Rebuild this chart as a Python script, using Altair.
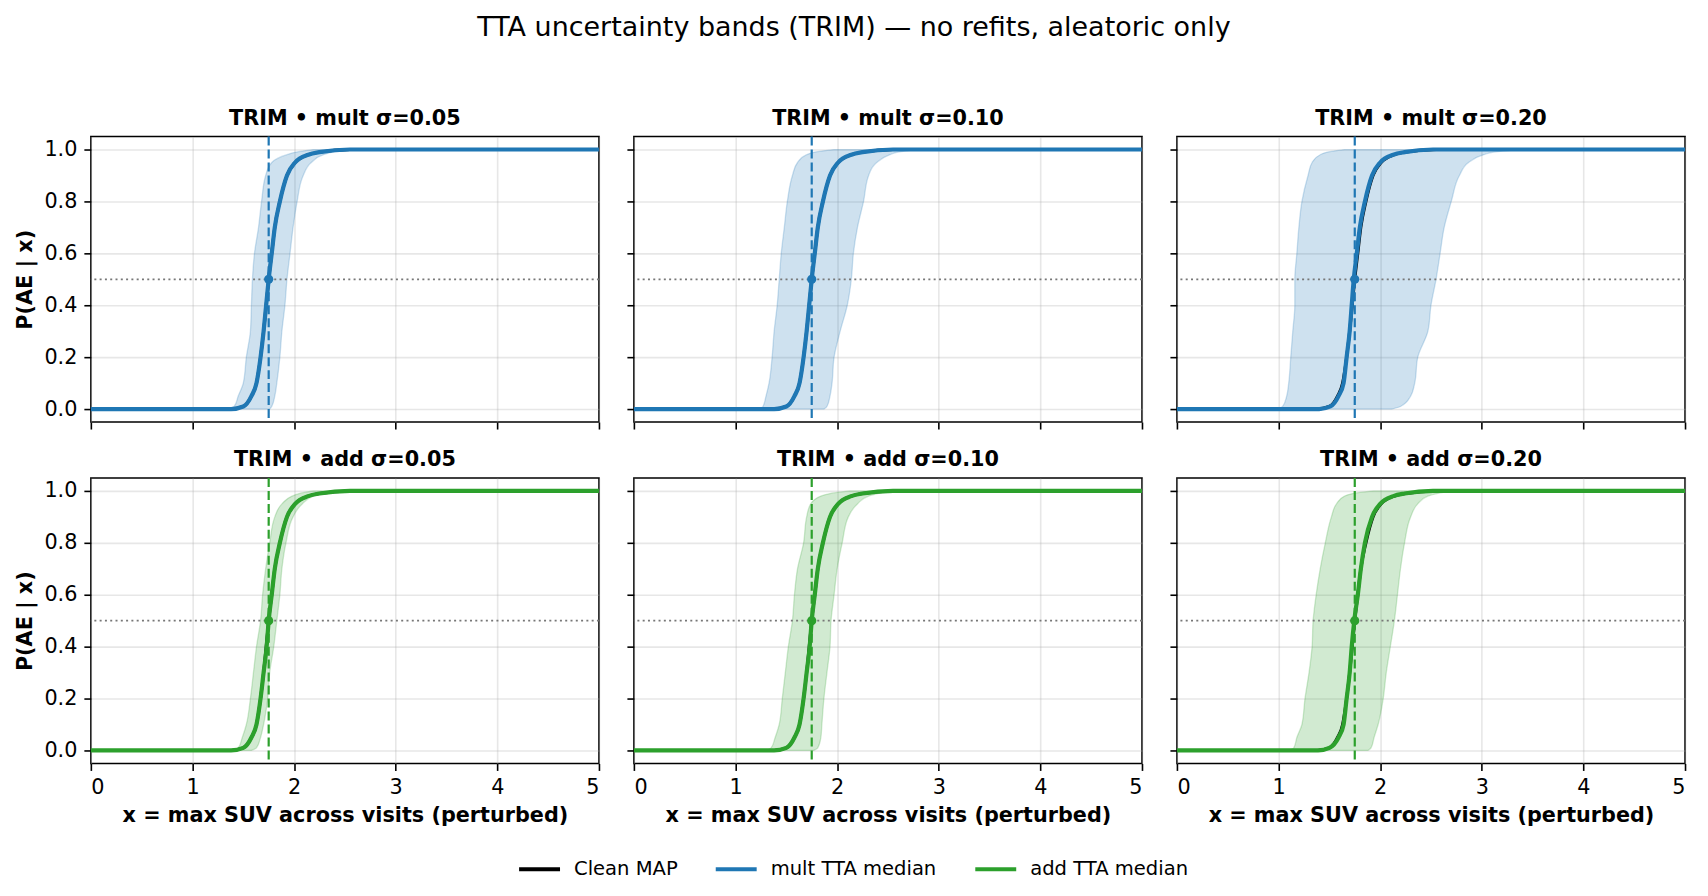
import altair as alt
import pandas as pd

FONT = "DejaVu Sans"
BLUE = "#1f77b4"
GREEN = "#2ca02c"

TITLE = "TTA uncertainty bands (TRIM) — no refits, aleatoric only"
X_TITLE = "x = max SUV across visits (perturbed)"
Y_TITLE = "P(AE | x)"
SERIES = ["Clean MAP", "mult TTA median", "add TTA median"]
SERIES_COLORS = ["#000000", BLUE, GREEN]
X_TICKS = [0, 1, 2, 3, 4, 5]
Y_TICKS = [0.0, 0.2, 0.4, 0.6, 0.8, 1.0]
X_RANGE = [0.0, 5.0]
Y_RANGE = [-0.05, 1.05]
THRESH_X = 1.75
THRESH_P = 0.5

# probability levels at which the curve / band edges were read (x position at each level)
LEVELS = [0.0, 0.01, 0.05, 0.1, 0.2, 0.3, 0.4, 0.5, 0.6, 0.7, 0.8, 0.9, 0.95, 0.98, 0.99, 1.0]

CLEAN_X = [1.38, 1.50, 1.58, 1.63, 1.67, 1.70, 1.725, 1.75, 1.78, 1.81, 1.86, 1.93, 2.01, 2.14, 2.25, 2.55]

MULT_005_MED = [1.38, 1.50, 1.58, 1.63, 1.67, 1.70, 1.725, 1.75, 1.78, 1.81, 1.86, 1.93, 2.01, 2.14, 2.25, 2.55]
MULT_005_LEFT = [1.35, 1.41, 1.45, 1.50, 1.53, 1.57, 1.58, 1.59, 1.61, 1.65, 1.68, 1.72, 1.78, 1.93, 2.02, 2.19]
MULT_005_RIGHT = [1.76, 1.78, 1.81, 1.83, 1.86, 1.88, 1.91, 1.93, 1.96, 1.99, 2.03, 2.09, 2.17, 2.29, 2.38, 2.58]

MULT_010_MED = [1.38, 1.50, 1.58, 1.63, 1.67, 1.70, 1.725, 1.75, 1.78, 1.81, 1.86, 1.93, 2.01, 2.14, 2.25, 2.55]
MULT_010_LEFT = [1.23, 1.27, 1.30, 1.33, 1.36, 1.38, 1.41, 1.43, 1.45, 1.48, 1.51, 1.56, 1.61, 1.70, 1.78, 1.97]
MULT_010_RIGHT = [1.87, 1.90, 1.93, 1.95, 1.97, 2.03, 2.10, 2.14, 2.16, 2.20, 2.26, 2.31, 2.39, 2.52, 2.60, 2.79]

MULT_020_MED = [1.40, 1.51, 1.59, 1.64, 1.67, 1.70, 1.72, 1.74, 1.77, 1.80, 1.85, 1.92, 2.00, 2.13, 2.24, 2.52]
MULT_020_LEFT = [1.00, 1.04, 1.08, 1.10, 1.12, 1.14, 1.16, 1.16, 1.18, 1.20, 1.23, 1.29, 1.33, 1.41, 1.48, 1.65]
MULT_020_RIGHT = [2.11, 2.20, 2.30, 2.34, 2.37, 2.47, 2.50, 2.55, 2.59, 2.63, 2.70, 2.78, 2.87, 3.02, 3.12, 3.38]

ADD_005_MED = [1.38, 1.50, 1.58, 1.63, 1.67, 1.70, 1.73, 1.75, 1.78, 1.81, 1.86, 1.93, 2.01, 2.14, 2.25, 2.55]
ADD_005_LEFT = [1.39, 1.45, 1.49, 1.53, 1.57, 1.60, 1.63, 1.67, 1.69, 1.72, 1.76, 1.81, 1.88, 1.98, 2.05, 2.19]
ADD_005_RIGHT = [1.58, 1.63, 1.67, 1.70, 1.74, 1.76, 1.80, 1.83, 1.86, 1.88, 1.92, 1.99, 2.08, 2.19, 2.27, 2.42]

ADD_010_MED = [1.38, 1.50, 1.58, 1.63, 1.67, 1.70, 1.73, 1.75, 1.78, 1.81, 1.86, 1.93, 2.01, 2.14, 2.25, 2.55]
ADD_010_LEFT = [1.30, 1.35, 1.39, 1.43, 1.46, 1.49, 1.52, 1.56, 1.58, 1.61, 1.67, 1.70, 1.74, 1.84, 1.93, 2.13]
ADD_010_RIGHT = [1.77, 1.81, 1.84, 1.85, 1.87, 1.90, 1.93, 1.94, 1.97, 2.00, 2.05, 2.11, 2.20, 2.31, 2.40, 2.59]

ADD_020_MED = [1.39, 1.50, 1.59, 1.64, 1.67, 1.70, 1.72, 1.745, 1.78, 1.81, 1.85, 1.92, 2.00, 2.13, 2.24, 2.52]
ADD_020_LEFT = [1.10, 1.15, 1.18, 1.23, 1.26, 1.30, 1.33, 1.34, 1.37, 1.41, 1.46, 1.52, 1.57, 1.65, 1.73, 1.94]
ADD_020_RIGHT = [1.88, 1.91, 1.94, 1.98, 2.03, 2.06, 2.10, 2.14, 2.17, 2.20, 2.24, 2.30, 2.37, 2.47, 2.56, 2.73]

PANEL_TITLES = ["TRIM • mult σ=0.05", "TRIM • mult σ=0.10", "TRIM • mult σ=0.20",
                "TRIM • add σ=0.05", "TRIM • add σ=0.10", "TRIM • add σ=0.20"]

PANEL_W = 509
PANEL_H = 286

xscale = alt.Scale(domain=X_RANGE, nice=False, zero=False)
yscale = alt.Scale(domain=Y_RANGE, nice=False, zero=False)
color_scale = alt.Scale(domain=SERIES, range=SERIES_COLORS)

LEGEND = alt.Legend(
    title=None, orient="none", legendX=427, legendY=711, direction="horizontal",
    symbolType="stroke", symbolSize=1681, symbolStrokeWidth=4,
    labelFont=FONT, labelFontSize=19.6, labelColor="black", labelOffset=12,
    labelLimit=400, columnPadding=30,
)


def line_df(xs, name):
    return pd.DataFrame({
        "x": [X_RANGE[0]] + list(xs) + [X_RANGE[1]],
        "p": [0.0] + LEVELS + [1.0],
        "series": name,
    })


def panel(title, mode, med, left, right, show_x, show_y):
    col = BLUE if mode == "mult" else GREEN
    series_name = "mult TTA median" if mode == "mult" else "add TTA median"
    xaxis = alt.Axis(values=X_TICKS, format="d", labels=show_x,
                     title=X_TITLE if show_x else None)
    yaxis = alt.Axis(values=Y_TICKS, format=".1f", labels=show_y,
                     title=Y_TITLE if show_y else None)

    band_df = pd.DataFrame({"p": LEVELS, "xl": left, "xr": right})
    band = alt.Chart(band_df).mark_area(
        orient="horizontal", interpolate="monotone", color=col, fillOpacity=0.22,
        stroke=col, strokeOpacity=0.22, strokeWidth=1.3,
    ).encode(
        y=alt.Y("p:Q", scale=yscale, axis=yaxis),
        x=alt.X("xl:Q", scale=xscale, axis=xaxis),
        x2="xr:Q",
    )

    clean = alt.Chart(line_df(CLEAN_X, "Clean MAP")).mark_line(
        strokeWidth=3, interpolate="monotone").encode(
        x=alt.X("x:Q", scale=xscale, axis=xaxis),
        y=alt.Y("p:Q", scale=yscale, axis=yaxis),
        color=alt.Color("series:N", scale=color_scale, legend=LEGEND),
    )
    median = alt.Chart(line_df(med, series_name)).mark_line(
        strokeWidth=4.2, interpolate="monotone").encode(
        x=alt.X("x:Q", scale=xscale, axis=xaxis),
        y=alt.Y("p:Q", scale=yscale, axis=yaxis),
        color=alt.Color("series:N", scale=color_scale, legend=LEGEND),
    )

    pt_df = pd.DataFrame({"x": [THRESH_X], "p": [THRESH_P]})
    vrule = alt.Chart(pt_df).mark_rule(color=col, strokeWidth=2.2, strokeDash=[9, 4]).encode(
        x=alt.X("x:Q", scale=xscale, axis=xaxis),
    )
    hrule = alt.Chart(pt_df).mark_rule(color="#777777", strokeWidth=1.8, strokeDash=[2, 3.3]).encode(
        y=alt.Y("p:Q", scale=yscale, axis=yaxis),
    )
    dot = alt.Chart(pt_df).mark_circle(color=col, size=85, opacity=1).encode(
        x=alt.X("x:Q", scale=xscale, axis=xaxis),
        y=alt.Y("p:Q", scale=yscale, axis=yaxis),
    )

    return alt.layer(band, hrule, clean, median, vrule, dot).properties(
        width=PANEL_W, height=PANEL_H,
        title=alt.TitleParams(title, font=FONT, fontSize=20.8, fontWeight="bold",
                              color="black", offset=6, anchor="middle"),
    )


panels = [
    panel(PANEL_TITLES[0], "mult", MULT_005_MED, MULT_005_LEFT, MULT_005_RIGHT, False, True),
    panel(PANEL_TITLES[1], "mult", MULT_010_MED, MULT_010_LEFT, MULT_010_RIGHT, False, False),
    panel(PANEL_TITLES[2], "mult", MULT_020_MED, MULT_020_LEFT, MULT_020_RIGHT, False, False),
    panel(PANEL_TITLES[3], "add", ADD_005_MED, ADD_005_LEFT, ADD_005_RIGHT, True, True),
    panel(PANEL_TITLES[4], "add", ADD_010_MED, ADD_010_LEFT, ADD_010_RIGHT, True, False),
    panel(PANEL_TITLES[5], "add", ADD_020_MED, ADD_020_LEFT, ADD_020_RIGHT, True, False),
]

chart = alt.ConcatChart(
    concat=panels, columns=3, spacing={"row": 56, "column": 35}, bounds="flush",
    title=alt.TitleParams(TITLE, font=FONT, fontSize=27, fontWeight="normal",
                          color="black", anchor="middle", offset=65),
).resolve_scale(color="shared").configure_view(
    stroke="black", strokeWidth=1.6,
).configure_axis(
    domain=False, grid=True, gridColor="#b0b0b0", gridOpacity=0.3, gridWidth=1.6,
    ticks=True, tickColor="black", tickWidth=1.6, tickSize=7, labelPadding=7,
    labelFont=FONT, labelFontSize=20.8, labelColor="black",
    titleFont=FONT, titleFontSize=20.8, titleFontWeight="bold", titleColor="black",
).configure_axisY(titlePadding=8.5).configure_axisX(titlePadding=8).properties(
    background="white", padding=5,
)

chart.save("out.html", embed_options={"renderer": "svg", "actions": False})
